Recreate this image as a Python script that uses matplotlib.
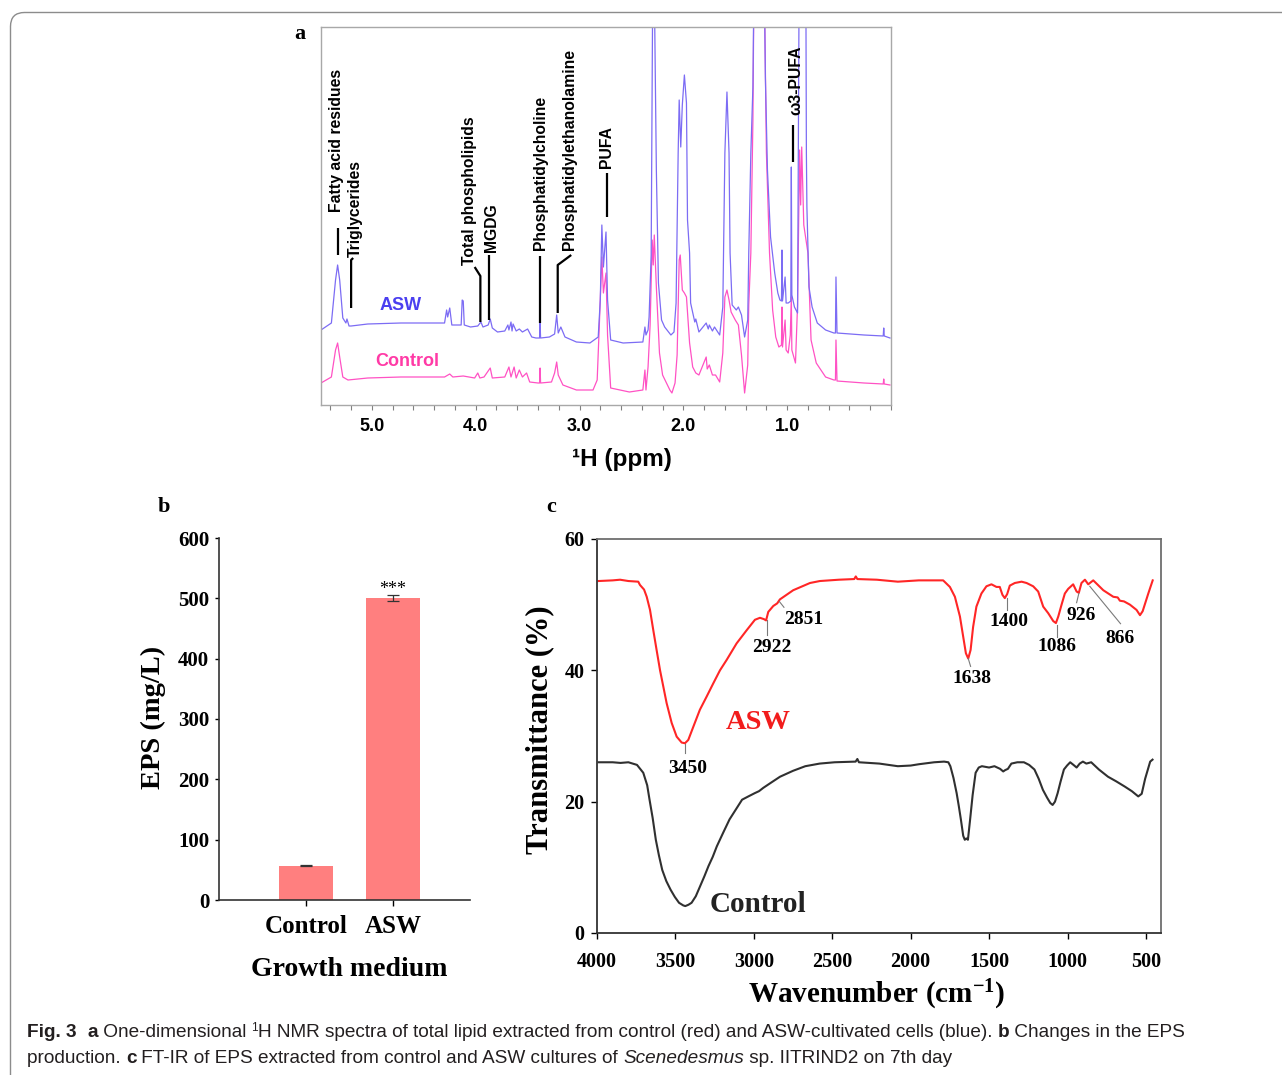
"""Fig. 3 recreation: 1H NMR of lipids (a), EPS bar chart (b), FT-IR of EPS (c)."""

import matplotlib

matplotlib.use("Agg")

import matplotlib.pyplot as plt
from matplotlib.patches import FancyBboxPatch
from matplotlib.transforms import IdentityTransform
from matplotlib.ticker import FixedLocator, MultipleLocator

W, H = 1282, 1075
DPI = 100

SERIF = "Liberation Serif"
SANS = "Liberation Sans"
CAP_FAMILY = ["Liberation Sans", "DejaVu Sans"]

plt.rcParams["mathtext.fontset"] = "custom"
plt.rcParams["mathtext.rm"] = "Liberation Serif:bold"
plt.rcParams["mathtext.bf"] = "Liberation Serif:bold"
plt.rcParams["mathtext.it"] = "Liberation Serif:bold:italic"

# ---------------------------------------------------------------- data
# (a) 1H NMR, ppm vs intensity (arbitrary units)
nmr_asw_ppm = [5.49, 5.39, 5.35, 5.33, 5.31, 5.29, 5.28, 5.25, 5.24, 5.22,
               5.20, 5.04, 4.72, 4.30, 4.28, 4.27, 4.25, 4.23, 4.17, 4.14,
               4.13, 4.12, 4.11, 4.05, 3.98, 3.95, 3.93, 3.88, 3.86, 3.84,
               3.79, 3.72, 3.69, 3.68, 3.66, 3.65, 3.64, 3.61, 3.58, 3.55,
               3.50, 3.46, 3.42, 3.385, 3.38, 3.375, 3.29, 3.24, 3.22, 3.205,
               3.18, 3.14, 3.03, 2.90, 2.82, 2.80, 2.785, 2.77, 2.745, 2.73,
               2.70, 2.58, 2.39, 2.37, 2.36, 2.34, 2.33, 2.31, 2.295, 2.28,
               2.27, 2.26, 2.24, 2.21, 2.18, 2.12, 2.09, 2.07, 2.05, 2.04,
               2.025, 2.01, 1.99, 1.97, 1.96, 1.94, 1.93, 1.89, 1.88, 1.85,
               1.78, 1.76, 1.75, 1.72, 1.70, 1.65, 1.62, 1.60, 1.58, 1.56,
               1.55, 1.53, 1.49, 1.47, 1.44, 1.41, 1.38, 1.37, 1.35, 1.33,
               1.32, 1.22, 1.21, 1.19, 1.16, 1.12, 1.09, 1.07, 1.055, 1.05,
               1.045, 1.02, 1.01, 0.99, 0.965, 0.96, 0.955, 0.93, 0.90, 0.885,
               0.82, 0.815, 0.81, 0.79, 0.76, 0.71, 0.63, 0.55, 0.535, 0.53,
               0.52, 0.26, 0.075, 0.07, 0.065, 0.01]
nmr_asw_int = [75, 82, 125, 140, 125, 100, 87, 82, 86, 79,
               79, 81, 82, 82, 95, 88, 97, 80, 80, 80,
               105, 104, 80, 78, 79, 83, 78, 80, 86, 77,
               73, 74, 80, 75, 83, 74, 81, 74, 76, 73,
               76, 68, 67, 67, 82, 67, 68, 71, 90, 72,
               78, 68, 63, 62, 68, 105, 180, 138, 173, 105,
               65, 62, 63, 78, 70, 75, 88, 150, 420, 420,
               332, 235, 122, 85, 78, 70, 73, 102, 252, 305,
               258, 300, 330, 302, 185, 152, 102, 83, 86, 73,
               82, 76, 80, 74, 78, 70, 98, 252, 313, 252,
               152, 100, 95, 98, 90, 68, 85, 152, 252, 318,
               420, 420, 328, 235, 168, 132, 112, 105, 104, 155,
               104, 128, 102, 102, 104, 238, 110, 98, 92, 420,
               420, 252, 198, 118, 98, 82, 75, 72, 72, 128,
               72, 70, 69, 77, 69, 67]

nmr_ctrl_ppm = [5.49, 5.39, 5.35, 5.33, 5.31, 5.28, 5.23, 5.04, 4.72, 4.30,
                4.25, 4.22, 4.12, 4.01, 3.98, 3.96, 3.92, 3.86, 3.84, 3.72,
                3.68, 3.66, 3.63, 3.61, 3.58, 3.55, 3.51, 3.48, 3.40, 3.385,
                3.38, 3.375, 3.27, 3.24, 3.22, 3.205, 3.16, 3.03, 2.87, 2.83,
                2.81, 2.785, 2.77, 2.745, 2.73, 2.70, 2.52, 2.39, 2.37, 2.36,
                2.34, 2.32, 2.30, 2.29, 2.28, 2.26, 2.23, 2.20, 2.13, 2.11,
                2.08, 2.06, 2.04, 2.03, 2.01, 1.99, 1.97, 1.94, 1.91, 1.88,
                1.85, 1.78, 1.77, 1.75, 1.72, 1.69, 1.65, 1.62, 1.60, 1.58,
                1.56, 1.54, 1.50, 1.47, 1.44, 1.41, 1.38, 1.37, 1.35, 1.33,
                1.32, 1.22, 1.20, 1.17, 1.14, 1.11, 1.08, 1.055, 1.05, 1.045,
                1.02, 1.01, 0.99, 0.97, 0.96, 0.955, 0.92, 0.90, 0.88, 0.87,
                0.86, 0.84, 0.80, 0.77, 0.72, 0.63, 0.55, 0.535, 0.53, 0.52,
                0.26, 0.075, 0.07, 0.065, 0.01]
nmr_ctrl_int = [22, 28, 55, 62, 48, 28, 25, 27, 28, 28,
                31, 28, 29, 27, 32, 27, 28, 37, 27, 28,
                38, 28, 38, 27, 35, 28, 32, 23, 22, 22,
                37, 22, 23, 32, 43, 30, 20, 15, 15, 25,
                78, 148, 112, 132, 70, 17, 13, 15, 35, 15,
                38, 80, 165, 140, 170, 118, 52, 30, 15, 12,
                22, 50, 145, 150, 115, 112, 108, 62, 38, 32,
                30, 48, 36, 40, 30, 30, 23, 52, 108, 115,
                105, 93, 85, 80, 50, 12, 40, 100, 152, 285,
                420, 420, 252, 152, 95, 68, 58, 60, 98, 58,
                85, 55, 52, 70, 108, 55, 42, 100, 255, 200,
                258, 180, 152, 65, 42, 28, 25, 25, 65, 24,
                22, 21, 26, 21, 20]

# (b) EPS production
eps_media = ["Control", "ASW"]
eps_values = [57, 500]
eps_errors = [1, 5]

# (c) FT-IR, wavenumber (cm-1) vs transmittance (%)
ir_asw_wn = [3990, 3900, 3853, 3800, 3737, 3726, 3700, 3683, 3662, 3641,
             3620, 3598, 3577, 3556, 3524, 3492, 3460, 3439, 3418, 3386,
             3344, 3301, 3259, 3216, 3173, 3110, 3046, 2993, 2961, 2936,
             2922, 2908, 2876, 2851, 2834, 2749, 2642, 2579, 2458, 2360,
             2350, 2340, 2216, 2082, 1948, 1878, 1793, 1750, 1718, 1686,
             1665, 1648, 1633, 1618, 1602, 1581, 1549, 1517, 1485, 1453,
             1432, 1415, 1400, 1385, 1368, 1336, 1293, 1261, 1219, 1187,
             1155, 1123, 1091, 1074, 1059, 1038, 1017, 996, 964, 942,
             928, 911, 889, 868, 836, 772, 708, 680, 666, 640,
             602, 560, 538, 521, 485, 457]
ir_asw_t = [53.6, 53.7, 53.8, 53.6, 53.5, 53.0, 52.3, 51.2, 49.2, 46.1,
            43.1, 40.0, 37.5, 35.0, 32.0, 29.9, 29.0, 28.9, 29.4, 31.4,
            34.0, 36.0, 38.0, 40.0, 41.6, 44.1, 46.1, 47.7, 48.0, 47.8,
            47.6, 48.9, 49.8, 50.2, 50.8, 52.2, 53.3, 53.6, 53.8, 53.9,
            54.3, 53.9, 53.8, 53.5, 53.7, 53.7, 53.7, 52.7, 51.2, 48.2,
            45.1, 42.6, 41.8, 43.1, 46.6, 49.7, 51.7, 52.8, 53.1, 52.7,
            52.7, 51.5, 51.0, 51.6, 52.9, 53.3, 53.5, 53.3, 52.8, 52.0,
            49.7, 48.7, 47.5, 47.2, 48.2, 50.0, 51.7, 52.4, 53.1, 52.0,
            51.8, 53.3, 53.8, 53.1, 53.7, 52.2, 51.2, 51.1, 50.6, 50.5,
            50.0, 49.2, 48.4, 49.0, 51.7, 53.7]

ir_ctrl_wn = [3990, 3900, 3850, 3800, 3745, 3705, 3680, 3665, 3645, 3625,
              3605, 3584, 3558, 3531, 3504, 3477, 3450, 3437, 3417, 3397,
              3370, 3343, 3316, 3289, 3262, 3236, 3195, 3155, 3115, 3075,
              3035, 2994, 2967, 2940, 2890, 2833, 2750, 2672, 2580, 2485,
              2351, 2340, 2330, 2200, 2082, 2000, 1948, 1850, 1787, 1760,
              1747, 1727, 1707, 1693, 1680, 1665, 1655, 1645, 1635, 1621,
              1605, 1586, 1566, 1546, 1500, 1466, 1430, 1410, 1398, 1380,
              1358, 1320, 1278, 1245, 1211, 1184, 1157, 1130, 1110, 1095,
              1080, 1063, 1045, 1023, 1003, 983, 962, 942, 922, 902,
              880, 849, 800, 742, 690, 635, 590, 549, 527, 505,
              473, 458]
ir_ctrl_t = [26.0, 26.0, 25.9, 26.0, 25.6, 24.4, 22.5, 20.3, 17.5, 14.2,
             11.8, 9.6, 7.9, 6.6, 5.5, 4.6, 4.2, 4.1, 4.3, 4.6,
             5.6, 7.1, 8.6, 10.2, 11.6, 13.2, 15.3, 17.3, 18.8, 20.3,
             20.8, 21.3, 21.6, 22.1, 22.9, 23.8, 24.7, 25.4, 25.8, 26.0,
             26.1, 26.5, 26.0, 25.8, 25.4, 25.5, 25.7, 26.0, 26.1, 26.0,
             25.4, 23.6, 21.3, 19.3, 17.3, 14.8, 14.2, 14.4, 14.2, 17.3,
             21.0, 24.4, 25.2, 25.4, 25.2, 25.4, 25.0, 24.6, 24.8, 25.0,
             25.8, 26.0, 26.0, 25.6, 24.9, 23.5, 21.8, 20.6, 19.8, 19.5,
             20.0, 21.3, 23.0, 24.9, 25.5, 26.0, 25.6, 25.2, 25.8, 26.1,
             25.8, 26.0, 24.9, 23.8, 23.1, 22.3, 21.6, 20.8, 21.2, 23.5,
             26.1, 26.4]

ir_peak_labels = ["3450", "2922", "2851", "1638", "1400", "1086", "926", "866"]

# ---------------------------------------------------------------- styling
NMR_ASW_COLOR = "#7c6cf4"
NMR_CTRL_COLOR = "#ff52c4"
BAR_COLOR = "#ff7f7f"
IR_ASW_COLOR = "#ff2626"
IR_CTRL_COLOR = "#303030"


def fig_xy(x, y):
    """Pixel position (from top-left) -> figure fraction."""
    return x / W, 1 - y / H


def add_axes_px(fig, left, top, right, bottom):
    return fig.add_axes([left / W, 1 - bottom / H, (right - left) / W,
                         (bottom - top) / H])


fig = plt.figure(figsize=(W / DPI, H / DPI), dpi=DPI)
fig.patch.set_facecolor("white")

# outer frame (only the top-left corner is inside the picture)
frame = FancyBboxPatch((10.5, -40), 1320, H - 12.5 + 40,
                       boxstyle="round,pad=0,rounding_size=14",
                       transform=IdentityTransform(), facecolor="none",
                       edgecolor="#8c8c8c", linewidth=1.0)
fig.add_artist(frame)

# ================================================================ panel a
ax_a = add_axes_px(fig, 321, 27, 891, 405)
ax_a.plot(nmr_ctrl_ppm, nmr_ctrl_int, color=NMR_CTRL_COLOR, linewidth=0.9)
ax_a.plot(nmr_asw_ppm, nmr_asw_int, color=NMR_ASW_COLOR, linewidth=0.9)
ax_a.set_xlim(5.49, 0.0)
ax_a.set_ylim(0, 378)
ax_a.yaxis.set_visible(False)
ax_a.xaxis.set_major_locator(FixedLocator([5.0, 4.0, 3.0, 2.0, 1.0]))
ax_a.xaxis.set_minor_locator(MultipleLocator(0.2))
ax_a.xaxis.set_major_formatter("{x:.1f}")
ax_a.tick_params(axis="x", which="both", direction="out", length=3.5,
                 width=0.8, color="#808080", pad=6)
for lbl in ax_a.get_xticklabels():
    lbl.set_fontfamily(SANS)
    lbl.set_fontweight("bold")
    lbl.set_fontsize(13)
for spine in ax_a.spines.values():
    spine.set_color("#a8a8a8")
    spine.set_linewidth(1.0)
ax_a.set_xlabel("\u00b9H (ppm)", fontfamily=SANS, fontweight="bold",
                fontsize=17.5, va="center")
ax_a.xaxis.set_label_coords(0.528, -0.143)

ax_a.text(4.72, 99, "ASW", color="#4b3ff0", fontfamily=SANS,
          fontweight="bold", fontsize=13, ha="center", va="center")
ax_a.text(4.66, 44, "Control", color="#ff3aa6", fontfamily=SANS,
          fontweight="bold", fontsize=13, ha="center", va="center")

# peak assignments: (label, text x, text bottom, leader path)
nmr_assignments = [
    ("Fatty acid residues", 5.34, 193, [(5.33, 150), (5.33, 177)]),
    ("Triglycerides", 5.16, 148, [(5.20, 97), (5.20, 145), (5.18, 147)]),
    ("Total phospholipids", 4.06, 140, [(3.955, 83), (3.955, 129), (4.01, 138)]),
    ("MGDG", 3.85, 153, [(3.875, 85), (3.875, 150)]),
    ("Phosphatidylcholine", 3.38, 155, [(3.38, 82), (3.38, 149)]),
    ("Phosphatidylethanolamine", 3.10, 155,
     [(3.21, 92), (3.21, 140), (3.08, 150)]),
    ("PUFA", 2.74, 237, [(2.74, 188), (2.74, 232)]),
    ("\u03c93-PUFA", 0.92, 290, [(0.94, 243), (0.94, 280)]),
]
for label, tx, ty, path in nmr_assignments:
    xs, ys = zip(*path)
    ax_a.plot(xs, ys, color="black", linewidth=1.6, solid_capstyle="butt")
    ax_a.text(tx, ty, label, rotation=90, fontfamily=SANS, fontweight="bold",
              fontsize=11.3, ha="center", va="bottom")

fig.text(*fig_xy(300, 34), "a", fontfamily=SERIF, fontweight="bold",
         fontsize=16, ha="center", va="center")

# ================================================================ panel b
ax_b = add_axes_px(fig, 219, 538, 470, 900)
xpos = range(len(eps_media))
ax_b.bar(xpos, eps_values, width=0.61, color=BAR_COLOR, zorder=2)
ax_b.errorbar(xpos, eps_values, yerr=eps_errors, fmt="none", ecolor="#333333",
              elinewidth=0.9, capsize=4, capthick=0.9, zorder=3)
ax_b.text(1, eps_values[1] + eps_errors[1] - 4, "***", ha="center",
          va="bottom", fontsize=13, fontfamily=SERIF)
ax_b.set_xlim(-1.0, 1.885)
ax_b.set_ylim(0, 600)
ax_b.set_yticks(range(0, 601, 100))
ax_b.set_xticks(list(xpos))
ax_b.set_xticklabels(eps_media)
ax_b.spines["top"].set_visible(False)
ax_b.spines["right"].set_visible(False)
for side in ("left", "bottom"):
    ax_b.spines[side].set_color("#333333")
    ax_b.spines[side].set_linewidth(1.2)
ax_b.tick_params(axis="y", direction="out", length=3, width=1, pad=4,
                 labelsize=15)
ax_b.tick_params(axis="x", direction="out", length=4, width=1, pad=7,
                 labelsize=18)
for lbl in ax_b.get_xticklabels() + ax_b.get_yticklabels():
    lbl.set_fontfamily(SERIF)
    lbl.set_fontweight("bold")
ax_b.set_ylabel("EPS (mg/L)", fontfamily=SERIF, fontweight="bold",
                fontsize=20.5, va="center")
ax_b.yaxis.set_label_coords(-0.263, 0.503)
ax_b.set_xlabel("Growth medium", fontfamily=SERIF, fontweight="bold",
                fontsize=20, va="center")
ax_b.xaxis.set_label_coords(0.518, -0.193)

fig.text(*fig_xy(164, 507), "b", fontfamily=SERIF, fontweight="bold",
         fontsize=16, ha="center", va="center")

# ================================================================ panel c
ax_c = add_axes_px(fig, 597, 539, 1161, 933)
ax_c.plot(ir_asw_wn, ir_asw_t, color=IR_ASW_COLOR, linewidth=1.5)
ax_c.plot(ir_ctrl_wn, ir_ctrl_t, color=IR_CTRL_COLOR, linewidth=1.5)
ax_c.set_xlim(4000, 404)
ax_c.set_ylim(0, 60)
ax_c.set_xticks(range(4000, 499, -500))
ax_c.set_yticks([0, 20, 40, 60])
ax_c.tick_params(direction="out", length=4, width=1, labelsize=14.5)
ax_c.tick_params(axis="x", pad=10)
ax_c.tick_params(axis="y", pad=5)
for lbl in ax_c.get_xticklabels() + ax_c.get_yticklabels():
    lbl.set_fontfamily(SERIF)
    lbl.set_fontweight("bold")
for side in ("left", "bottom"):
    ax_c.spines[side].set_color("#333333")
    ax_c.spines[side].set_linewidth(1.3)
for side in ("top", "right"):
    ax_c.spines[side].set_color("#6e6e6e")
    ax_c.spines[side].set_linewidth(1.3)
ax_c.set_ylabel("Transmittance (%)", fontfamily=SERIF, fontweight="bold",
                fontsize=22, va="center")
ax_c.yaxis.set_label_coords(-0.101, 0.515)
ax_c.set_xlabel("Wavenumber (cm$^{-1}$)", fontfamily=SERIF,
                fontweight="bold", fontsize=21, va="center")
ax_c.xaxis.set_label_coords(0.496, -0.157)

# peak callouts: leader line start, leader line end, text centre
ir_callouts = [
    ((3439, 28.8), (3439, 27.4), (3420, 25.0)),
    ((2918, 47.7), (2918, 45.4), (2885, 43.5)),
    ((2838, 50.5), (2808, 49.6), (2681, 47.8)),
    ((1633, 41.8), (1618, 40.6), (1610, 38.7)),
    ((1389, 51.0), (1389, 49.2), (1374, 47.4)),
    ((1070, 46.9), (1070, 45.1), (1070, 43.6)),
    ((928, 51.7), (942, 50.3), (911, 48.4)),
    ((858, 52.8), (662, 47.1), (667, 44.9)),
]
for label, (p0, p1, pt) in zip(ir_peak_labels, ir_callouts):
    ax_c.plot([p0[0], p1[0]], [p0[1], p1[1]], color="#7a7a7a", linewidth=0.8)
    ax_c.text(pt[0], pt[1], label, fontfamily=SERIF, fontweight="bold",
              fontsize=14, ha="center", va="center")

ax_c.text(2970, 32.0, "ASW", color="#f21c1c", fontfamily=SERIF,
          fontweight="bold", fontsize=20.5, ha="center", va="center")
ax_c.text(2972, 4.3, "Control", color="#222222", fontfamily=SERIF,
          fontweight="bold", fontsize=21, ha="center", va="center")

fig.text(*fig_xy(551, 507), "c", fontfamily=SERIF, fontweight="bold",
         fontsize=16, ha="center", va="center")

# ================================================================ caption
renderer = fig.canvas.get_renderer()
CAP_LEFT = 27
CAP_LINE1_RIGHT = 1192


def draw_runs(runs, x_px, y_px, size):
    """Lay out a caption line made of differently styled text runs."""
    artists = []
    for text, style in runs:
        kw = dict(fontfamily=CAP_FAMILY, fontsize=size, color="#231f20",
                  va="baseline", ha="left")
        yy = y_px
        if style == "bold":
            kw["fontweight"] = "bold"
        elif style == "italic":
            kw["fontstyle"] = "italic"
        elif style == "sup":
            kw["fontsize"] = size * 0.62
            yy = y_px - size * 0.45
        t = fig.text(*fig_xy(x_px, yy), text, **kw)
        x_px += t.get_window_extent(renderer).width
        artists.append(t)
    return artists, x_px


caption_1 = [("Fig. 3", "bold"), ("  ", "reg"), ("a", "bold"),
             (" One-dimensional ", "reg"), ("1", "sup"),
             ("H NMR spectra of total lipid extracted from control (red) and "
              "ASW-cultivated cells (blue). ", "reg"),
             ("b", "bold"), (" Changes in the EPS", "reg")]
caption_2 = [("production. ", "reg"), ("c", "bold"),
             (" FT-IR of EPS extracted from control and ASW cultures of ",
              "reg"),
             ("Scenedesmus", "italic"), (" sp. IITRIND2 on 7th day", "reg")]

# fit the caption size so the first line spans the same width as the original
trial_size = 13.0
trial, right = draw_runs(caption_1, CAP_LEFT, 1037, trial_size)
for t in trial:
    t.remove()
cap_size = min(15.0, trial_size * (CAP_LINE1_RIGHT - CAP_LEFT) / (right - CAP_LEFT))
draw_runs(caption_1, CAP_LEFT, 1037, cap_size)
draw_runs(caption_2, CAP_LEFT, 1063, cap_size)

fig.savefig("out.png", dpi=DPI, facecolor="white")
